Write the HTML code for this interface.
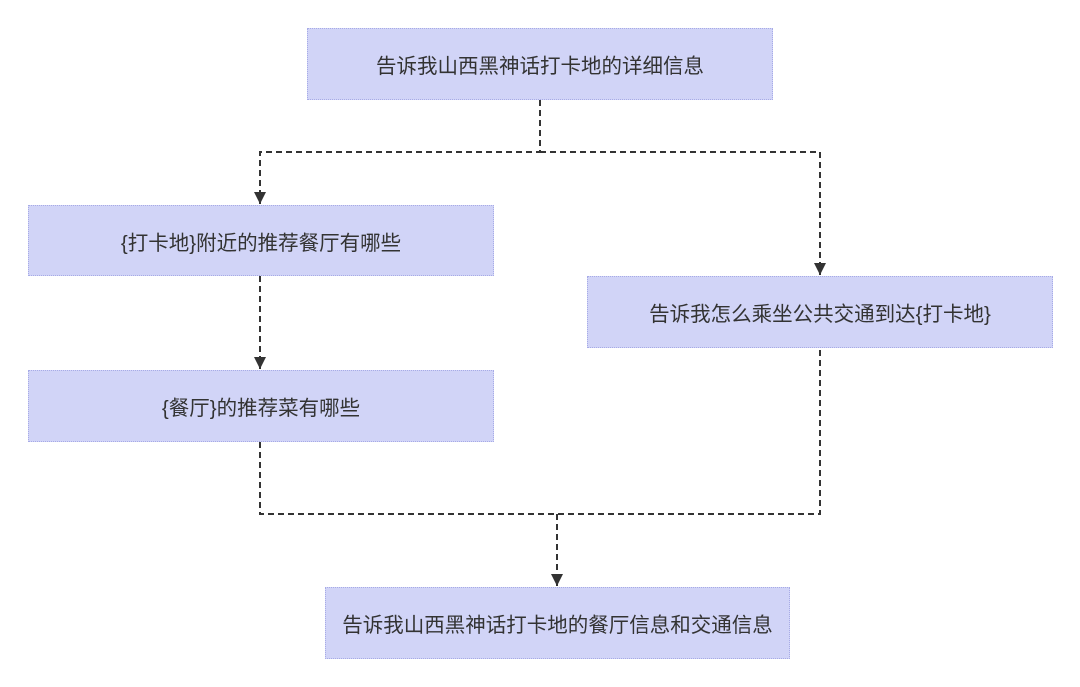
<!DOCTYPE html>
<html><head><meta charset="utf-8"><style>
body{margin:0;width:1080px;height:687px;background:#fff;position:relative;overflow:hidden;font-family:"Liberation Sans","Noto Sans CJK SC",sans-serif;}
.b{position:absolute;background:#d1d4f7;border:1px dotted #a7abe6;box-sizing:border-box;display:flex;align-items:center;justify-content:center;font-size:20.5px;color:#333;}
svg{position:absolute;left:0;top:0}
</style></head><body>
<div class="b" style="left:307px;top:28px;width:466px;height:72px">告诉我山西黑神话打卡地的详细信息</div>
<div class="b" style="left:28px;top:205px;width:466px;height:71px">{打卡地}附近的推荐餐厅有哪些</div>
<div class="b" style="left:587px;top:276px;width:466px;height:72px">告诉我怎么乘坐公共交通到达{打卡地}</div>
<div class="b" style="left:28px;top:370px;width:466px;height:72px">{餐厅}的推荐菜有哪些</div>
<div class="b" style="left:325px;top:587px;width:465px;height:72px">告诉我山西黑神话打卡地的餐厅信息和交通信息</div>
<svg width="1080" height="687"><defs><marker id="a" markerWidth="12" markerHeight="12" refX="12" refY="6" orient="auto" markerUnits="userSpaceOnUse"><path d="M0,0 L12,6 L0,12z" fill="#333"/></marker></defs>
<g stroke="#333" stroke-width="2" fill="none" stroke-dasharray="6,4">
<path d="M540,100 V152 H260 V204" marker-end="url(#a)"/>
<path d="M540,152 H820 V275" marker-end="url(#a)"/>
<path d="M260,276 V369" marker-end="url(#a)"/>
<path d="M260,442 V514 H820 V348"/>
<path d="M557,514 V586" marker-end="url(#a)"/>
</g></svg>
</body></html>
